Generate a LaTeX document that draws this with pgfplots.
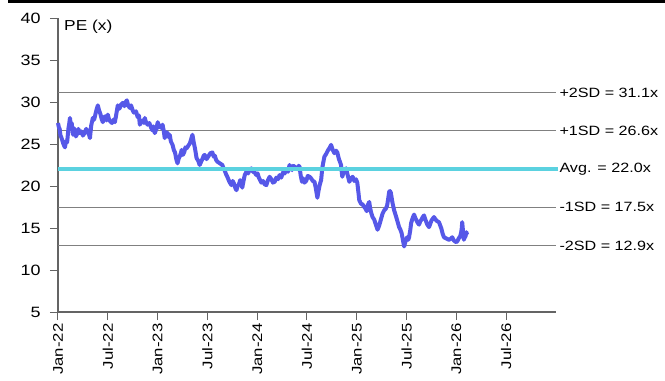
\documentclass[border=0pt]{standalone}
\usepackage{fontspec}
\setmainfont[FakeStretch=1.2]{Liberation Sans}
\usepackage{pgfplots}
\pgfplotsset{compat=1.18}
\definecolor{lineblue}{RGB}{86,88,232}
\definecolor{avgcyan}{RGB}{91,210,224}
\definecolor{sdgray}{RGB}{128,128,128}
\definecolor{axgray}{RGB}{100,100,100}
\begin{document}
\begin{tikzpicture}
\useasboundingbox (-58bp,-69bp) rectangle (607bp,312bp);
\fill[black] (-50bp,309bp) rectangle (607bp,312bp);
\begin{axis}[
 at={(0,0)}, anchor=south west,
 scale only axis, width=498bp, height=294bp,
 xmin=0, xmax=60, ymin=5, ymax=40,
 axis x line*=bottom, axis y line*=left,
 axis line style={axgray, line width=1.2bp, -},
 xtick={0,6,...,54},
 xticklabels={Jan-22,Jul-22,Jan-23,Jul-23,Jan-24,Jul-24,Jan-25,Jul-25,Jan-26,Jul-26},
 ytick={5,10,...,40},
 tick align=outside,
 major tick length=8bp,
 tick style={axgray, line width=1bp},
 x tick label style={rotate=90, anchor=east, font=\fontsize{14}{14}\selectfont},
 y tick label style={font=\fontsize{15}{15}\selectfont, xshift=-6bp},
 /pgf/number format/assume math mode=true,
 clip=false,
]
\addplot[sdgray, line width=1bp] coordinates {(0,31.1) (60,31.1)};
\addplot[sdgray, line width=1bp] coordinates {(0,26.6) (60,26.6)};
\addplot[sdgray, line width=1bp] coordinates {(0,17.5) (60,17.5)};
\addplot[sdgray, line width=1bp] coordinates {(0,12.9) (60,12.9)};
\addplot[lineblue, line width=4bp, line join=round] coordinates {
(0,27.5) (0.1,27.0) (0.2,26.8)(0.3,26.0)(0.4,25.8)(0.5,25.5)(0.65,25.0)(0.84,24.6)(0.95,25.3)(1.1,25.2)(1.25,26.8)(1.35,27.4)(1.44,28.1)(1.55,27.2)(1.65,27.5)(1.8,26.1)(1.9,26.9)(2.0,26.6)(2.15,25.9)(2.3,26.2)(2.45,26.8)(2.6,26.3)(2.8,26.5)(3.0,26.0)(3.2,26.3)(3.4,26.8)(3.6,26.4)(3.75,26.1)(3.85,25.7)(4.0,27.2)(4.2,28.1)(4.35,27.9)(4.5,28.5)(4.65,29.1)(4.8,29.6)(4.95,29.0)(5.1,28.6)(5.25,28.0)(5.4,27.6)(5.55,28.2)(5.7,28.3)(5.85,27.8)(6.0,28.5)(6.15,27.9)(6.3,27.7)(6.5,27.5)(6.7,27.9)(6.85,27.6)(7.0,28.4)(7.2,29.6)(7.4,29.2)(7.6,29.7)(7.8,29.9)(8.0,29.5)(8.15,30.0)(8.3,30.2)(8.45,29.6)(8.65,29.3)(8.8,29.6)(9.0,29.0)(9.1,28.8)(9.25,28.7)(9.4,28.9)(9.6,28.2)(9.75,28.4)(9.86,27.3)(10.0,27.6)(10.2,27.8)(10.35,27.5)(10.46,28.1)(10.6,27.6)(10.8,27.3)(11.0,27.5)(11.2,27.0)(11.4,26.6)(11.5,27.1)(11.66,26.3)(11.85,26.8)(12.02,27.6)(12.15,27.0)(12.3,27.2)(12.45,26.9)(12.6,27.3)(12.75,26.5)(12.86,25.7)(13.0,26.4)(13.2,26.3)(13.35,25.8)(13.46,26.1)(13.6,25.3)(13.8,24.9)(13.95,24.3)(14.1,24.0)(14.25,23.2)(14.4,22.7)(14.55,23.3)(14.7,23.6)(14.8,23.9)(14.9,24.3)(15.05,23.7)(15.2,24.0)(15.35,24.6)(15.5,24.5)(15.7,24.8)(15.9,25.1)(16.05,25.6)(16.2,26.1)(16.35,25.2)(16.5,24.5)(16.6,23.9)(16.7,23.3)(16.9,23.0)(17.07,22.5)(17.25,22.9)(17.4,23.2)(17.55,23.6)(17.67,23.7)(17.9,23.2)(18.1,23.5)(18.35,23.9)(18.6,24.0)(18.75,23.5)(18.9,23.6)(19.05,23.1)(19.2,22.9)(19.5,22.7)(19.8,22.5)(19.95,22.1)(20.1,21.8)(20.25,21.4)(20.4,21.1)(20.65,20.5)(20.9,20.1)(21.05,20.6)(21.2,20.3)(21.35,19.8)(21.5,19.5)(21.65,20.0)(21.8,20.2)(21.95,20.7)(22.1,20.4)(22.2,19.8)(22.35,20.6)(22.5,21.3)(22.7,21.7)(22.9,21.5)(23.1,21.9)(23.3,22.1)(23.5,21.7)(23.7,21.6)(23.9,21.3)(24.05,21.5)(24.2,21.0)(24.35,20.7)(24.5,20.4)(24.7,20.6)(24.9,20.2)(25.1,20.1)(25.3,20.7)(25.5,21.1)(25.7,20.8)(25.9,20.4)(26.1,20.5)(26.3,21.0)(26.5,20.8)(26.7,21.3)(26.9,21.0)(27.1,21.6)(27.3,21.5)(27.5,21.9)(27.7,21.7)(27.9,22.5)(28.05,22.2)(28.2,21.9)(28.35,22.4)(28.5,22.3)(28.8,22.0)(29.0,22.4)(29.1,22.3)(29.25,21.2)(29.4,20.5)(29.55,20.9)(29.7,20.4)(29.9,20.6)(30.1,21.2)(30.3,21.1)(30.5,20.9)(30.7,20.6)(30.9,20.5)(31.05,19.8)(31.25,18.6)(31.4,19.5)(31.55,20.2)(31.7,20.7)(31.85,22.2)(32.0,23.0)(32.1,23.5)(32.3,23.8)(32.5,24.2)(32.7,24.5)(32.9,24.9)(33.1,24.3)(33.3,23.9)(33.5,24.2)(33.65,24.0)(33.85,23.2)(34.0,22.8)(34.1,22.5)(34.25,21.1)(34.45,21.8)(34.7,22.1)(34.9,21.3)(35.1,20.5)(35.3,20.9)(35.5,21.1)(35.7,20.6)(35.9,20.8)(36.06,20.4)(36.2,19.2)(36.3,18.3)(36.5,17.9)(36.7,17.8)(36.9,17.5)(37.05,17.3)(37.2,17.0)(37.35,17.8)(37.5,18.1)(37.6,17.4)(37.74,16.8)(37.9,16.3)(38.1,16.0)(38.3,15.4)(38.5,14.8)(38.7,15.3)(38.9,16.0)(39.1,16.7)(39.3,17.1)(39.5,17.3)(39.66,17.7)(39.8,18.6)(39.9,19.3)(40.0,19.4)(40.1,19.2)(40.3,18.0)(40.5,17.1)(40.6,16.8)(40.75,16.3)(40.9,15.8)(41.1,15.1)(41.25,14.8)(41.4,14.4)(41.55,13.6)(41.7,12.8)(41.9,13.5)(42.07,13.9)(42.2,13.6)(42.3,13.9)(42.45,14.8)(42.55,15.6)(42.7,16.1)(42.9,16.6)(43.05,16.2)(43.2,15.9)(43.35,15.6)(43.5,15.4)(43.65,15.8)(43.8,16.0)(43.95,16.3)(44.1,16.5)(44.3,15.9)(44.5,15.4)(44.7,15.1)(44.85,15.5)(45.0,15.9)(45.15,16.1)(45.3,16.3)(45.5,16.0)(45.7,15.8)(45.9,15.7)(46.05,15.3)(46.2,14.9)(46.35,14.3)(46.5,13.9)(46.7,13.8)(46.9,13.7)(47.1,13.6)(47.3,13.7)(47.5,13.9)(47.7,13.5)(47.85,13.4)(48.0,13.3)(48.15,13.5)(48.3,13.8)(48.45,14.0)(48.56,14.4)(48.65,15.0)(48.7,15.7)(48.8,14.6)(48.9,13.6)(49.0,13.9)(49.1,14.0)(49.2,14.5)(49.3,14.2)
};
\addplot[avgcyan, line width=3.5bp] coordinates {(0,22.0) (60.2,22.0)};
\node[anchor=west, font=\fontsize{13.5}{13.5}\selectfont] at (axis cs:60,31.1) {+2SD = 31.1x};
\node[anchor=west, font=\fontsize{13.5}{13.5}\selectfont] at (axis cs:60,26.6) {+1SD = 26.6x};
\node[anchor=west, font=\fontsize{13.5}{13.5}\selectfont] at (axis cs:60,22.0) {Avg. = 22.0x};
\node[anchor=west, font=\fontsize{13.5}{13.5}\selectfont] at (axis cs:60,17.5) {-1SD = 17.5x};
\node[anchor=west, font=\fontsize{13.5}{13.5}\selectfont] at (axis cs:60,12.9) {-2SD = 12.9x};
\node[anchor=north west, font=\fontsize{14.5}{14.5}\selectfont, inner sep=0pt, xshift=6bp, yshift=-2bp] at (rel axis cs:0,1) {PE (x)};
\end{axis}
\end{tikzpicture}
\end{document}
